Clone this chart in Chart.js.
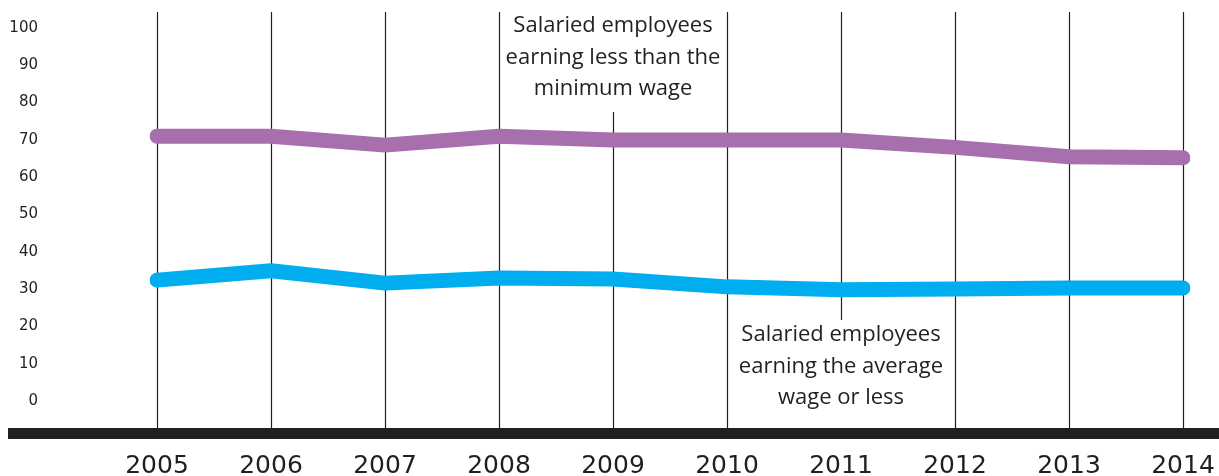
<!DOCTYPE html>
<html>
<head>
<meta charset="utf-8">
<script src="https://cdn.jsdelivr.net/npm/chart.js@4"></script>
<style>
  html, body { margin: 0; padding: 0; background: #fff; }
  #wrap { width: 1219px; height: 476px; }
</style>
</head>
<body>
<div id="wrap"><canvas id="wageChart"></canvas></div>
<script>
var years = ['2005', '2006', '2007', '2008', '2009', '2010', '2011', '2012', '2013', '2014'];
var belowMinimum = [71, 71, 68.6, 71, 70, 70, 70, 68, 65.5, 65.2];
var averageOrLess = [32.4, 34.9, 31.6, 33, 32.7, 30.6, 29.8, 30, 30.3, 30.3];
var yTicks = [0, 10, 20, 30, 40, 50, 60, 70, 80, 90, 100];
var labelMinimum = ['Salaried employees', 'earning less than the', 'minimum wage'];
var labelAverage = ['Salaried employees', 'earning the average', 'wage or less'];

var ink = '#231f20';

// vertical year lines, bottom bar and the two text notes
var decorations = {
    id: 'decorations',
    beforeDatasetsDraw: function(chart) {
        var ctx = chart.ctx;
        var x = chart.scales.x;
        ctx.save();
        ctx.strokeStyle = ink;
        ctx.lineWidth = 1.2;
        years.forEach(function(y, i) {
            var px = Math.round(x.getPixelForValue(i)) + 0.5;
            var top = 12, bottom = 430;
            if (y === '2009') top = 112;
            if (y === '2011') bottom = 320;
            ctx.beginPath();
            ctx.moveTo(px, top);
            ctx.lineTo(px, bottom);
            ctx.stroke();
        });
        ctx.fillStyle = ink;
        ctx.fillRect(8, 428, chart.width - 8, 11);
        ctx.restore();
    },
    afterDraw: function(chart) {
        var ctx = chart.ctx;
        var x = chart.scales.x;
        ctx.save();
        ctx.font = '22px "Open Sans"';
        ctx.fillStyle = ink;
        ctx.textAlign = 'center';
        ctx.textBaseline = 'middle';
        var cx1 = x.getPixelForValue(years.indexOf('2009'));
        labelMinimum.forEach(function(t, i) { ctx.fillText(t, cx1, 26 + i * 31.5); });
        var cx2 = x.getPixelForValue(years.indexOf('2011'));
        labelAverage.forEach(function(t, i) { ctx.fillText(t, cx2, 335 + i * 31.5); });
        ctx.restore();
    }
};

new Chart(document.getElementById('wageChart'), {
    type: 'line',
    data: {
        labels: years,
        datasets: [{
            label: 'Salaried employees earning less than the minimum wage',
            data: belowMinimum,
            borderColor: '#a76fae',
            borderWidth: 15,
            borderCapStyle: 'round',
            borderJoinStyle: 'round',
            pointRadius: 0,
            tension: 0
        }, {
            label: 'Salaried employees earning the average wage or less',
            data: averageOrLess,
            borderColor: '#00adee',
            borderWidth: 15,
            borderCapStyle: 'round',
            borderJoinStyle: 'round',
            pointRadius: 0,
            tension: 0
        }]
    },
    options: {
        responsive: true,
        maintainAspectRatio: false,
        animation: false,
        layout: { padding: { top: 28, right: 36, left: 0, bottom: 0 } },
        plugins: { legend: { display: false }, tooltip: { enabled: false } },
        scales: {
            x: {
                offset: false,
                grid: { display: false, drawTicks: false },
                border: { display: false },
                ticks: {
                    color: ink,
                    font: { family: 'DejaVu Sans', size: 25 },
                    padding: 50,
                    maxRotation: 0,
                    autoSkip: false
                },
                afterFit: function(scale) {
                    scale.height = 75;
                    scale.paddingLeft = 0;
                    scale.paddingRight = 0;
                }
            },
            y: {
                min: 0,
                max: 100,
                afterBuildTicks: function(scale) {
                    scale.ticks = yTicks.map(function(v) { return { value: v }; });
                },
                grid: { display: false, drawTicks: false },
                border: { display: false },
                ticks: {
                    color: ink,
                    font: { family: 'DejaVu Sans', size: 15 },
                    padding: 119
                },
                afterFit: function(scale) {
                    scale.width = 157;
                    scale.paddingTop = 0;
                    scale.paddingBottom = 0;
                }
            }
        }
    },
    plugins: [decorations]
});
</script>
</body>
</html>
